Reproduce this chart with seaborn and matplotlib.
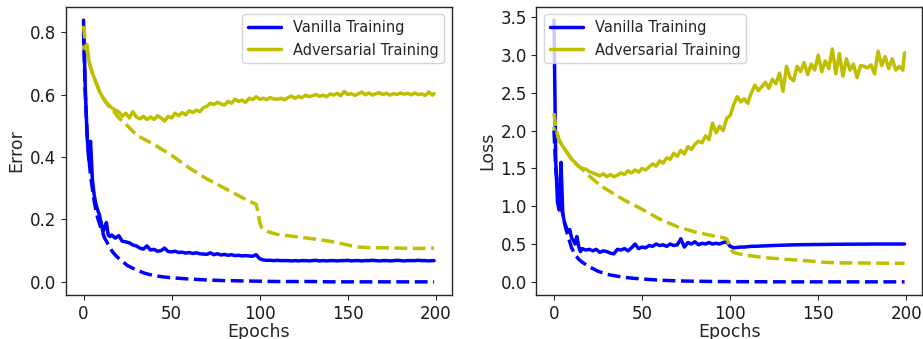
import matplotlib
matplotlib.use('Agg')
import matplotlib.pyplot as plt
import seaborn as sns

##
# epochs for the noisy (test) curves and the smooth (train) curves
ep_test = list(range(0 , 16)) + list(range(16 , 200 , 2)) + [199]
ep_van_train = [0 , 1 , 2 , 3 , 4 , 5 , 6 , 7 , 8 , 10 , 12 , 14 , 16 , 18 , 20 , 25 , 30 , 35 , 40 , 45 ,
                50 , 60 , 70 , 80 , 90 , 100 , 110 , 120 , 130 , 140 , 150 , 160 , 170 , 180 , 190 , 199]
ep_adv_train = [0 , 1 , 2 , 3 , 4 , 5 , 6 , 8 , 10 , 12 , 14 , 16 , 18 , 20 , 25 , 30 , 40 , 50 , 60 , 70 ,
                80 , 90 , 95 , 98 , 99 , 100 , 101 , 102 , 105 , 110 , 120 , 130 , 140 , 150 , 155 , 160 ,
                170 , 180 , 190 , 199]

##
err_van_test = [0.838 , 0.62 , 0.47 , 0.39 , 0.45 , 0.33 , 0.28 , 0.25 , 0.23 , 0.215 ,
                0.19 , 0.16 , 0.175 , 0.19 , 0.15 , 0.145 ,
                0.15 , 0.14 , 0.148 , 0.13 , 0.128 , 0.125 , 0.118 , 0.115 , 0.108 , 0.105 ,
                0.115 , 0.102 , 0.104 , 0.098 , 0.1 , 0.108 , 0.097 , 0.096 , 0.098 , 0.094 ,
                0.095 , 0.092 , 0.094 , 0.091 , 0.093 , 0.09 , 0.089 , 0.088 , 0.093 , 0.087 ,
                0.09 , 0.086 , 0.088 , 0.085 , 0.087 , 0.084 , 0.085 , 0.083 , 0.084 , 0.083 ,
                0.082 , 0.087 , 0.074 , 0.07 , 0.069 , 0.069 , 0.068 , 0.069 , 0.068 , 0.068 ,
                0.068 , 0.067 , 0.068 , 0.067 , 0.068 , 0.068 , 0.067 , 0.068 , 0.069 , 0.067 ,
                0.068 , 0.067 , 0.068 , 0.068 , 0.067 , 0.068 , 0.068 , 0.069 , 0.067 , 0.068 ,
                0.068 , 0.067 , 0.068 , 0.068 , 0.069 , 0.068 , 0.067 , 0.068 , 0.068 , 0.067 ,
                0.068 , 0.069 , 0.068 , 0.067 , 0.068 , 0.068 , 0.068 , 0.069 , 0.068 , 0.068 ,
                0.067 , 0.068 ,
                0.068]

err_adv_test = [0.752 , 0.745 , 0.76 , 0.71 , 0.685 , 0.67 , 0.655 , 0.64 , 0.625 , 0.61 ,
                0.6 , 0.59 , 0.583 , 0.575 , 0.568 , 0.562 ,
                0.558 , 0.55 , 0.545 , 0.53 , 0.54 , 0.525 , 0.545 , 0.528 , 0.522 , 0.53 ,
                0.52 , 0.528 , 0.52 , 0.532 , 0.525 , 0.515 , 0.53 , 0.525 , 0.54 , 0.532 ,
                0.542 , 0.535 , 0.548 , 0.542 , 0.55 , 0.545 , 0.558 , 0.562 , 0.572 , 0.568 ,
                0.575 , 0.57 , 0.566 , 0.578 , 0.572 , 0.585 , 0.578 , 0.582 , 0.575 , 0.588 ,
                0.584 , 0.593 , 0.585 , 0.588 , 0.584 , 0.59 , 0.586 , 0.585 , 0.588 , 0.583 ,
                0.59 , 0.595 , 0.588 , 0.594 , 0.59 , 0.598 , 0.593 , 0.596 , 0.6 , 0.594 ,
                0.598 , 0.593 , 0.602 , 0.598 , 0.604 , 0.596 , 0.61 , 0.6 , 0.603 , 0.597 ,
                0.602 , 0.608 , 0.599 , 0.605 , 0.598 , 0.603 , 0.606 , 0.6 , 0.604 , 0.598 ,
                0.603 , 0.6 , 0.605 , 0.601 , 0.604 , 0.599 , 0.605 , 0.6 , 0.602 , 0.597 ,
                0.608 , 0.598 ,
                0.603]

err_van_train = [0.8 , 0.6 , 0.48 , 0.4 , 0.34 , 0.3 , 0.26 , 0.23 , 0.205 , 0.17 , 0.14 , 0.12 ,
                 0.1 , 0.086 , 0.075 , 0.052 , 0.038 , 0.027 , 0.02 , 0.016 , 0.013 , 0.009 , 0.006 ,
                 0.004 , 0.003 , 0.002 , 0.001 , 0.001 , 0.001 , 0.0 , 0.0 , 0.0 , 0.0 , 0.0 , 0.0 , 0.0]

err_adv_train = [0.82 , 0.77 , 0.74 , 0.71 , 0.69 , 0.67 , 0.655 , 0.625 , 0.6 , 0.58 , 0.565 , 0.555 ,
                 0.54 , 0.525 , 0.5 , 0.47 , 0.44 , 0.405 , 0.365 , 0.33 , 0.3 , 0.27 , 0.256 , 0.248 ,
                 0.225 , 0.19 , 0.175 , 0.17 , 0.16 , 0.152 , 0.145 , 0.138 , 0.13 , 0.118 , 0.112 ,
                 0.11 , 0.109 , 0.108 , 0.107 , 0.108]

##
loss_van_test = [3.46 , 1.6 , 1.05 , 0.95 , 1.58 , 0.9 , 0.78 , 0.72 , 0.66 , 0.69 ,
                 0.58 , 0.55 , 0.5 , 0.6 , 0.47 , 0.4 ,
                 0.44 , 0.42 , 0.43 , 0.41 , 0.43 , 0.39 , 0.41 , 0.4 , 0.38 , 0.37 ,
                 0.43 , 0.42 , 0.44 , 0.41 , 0.45 , 0.5 , 0.44 , 0.46 , 0.45 , 0.48 ,
                 0.47 , 0.5 , 0.48 , 0.49 , 0.47 , 0.5 , 0.48 , 0.49 , 0.57 , 0.46 ,
                 0.52 , 0.5 , 0.53 , 0.49 , 0.51 , 0.5 , 0.52 , 0.5 , 0.51 , 0.5 ,
                 0.52 , 0.53 , 0.47 , 0.45 , 0.455 , 0.46 , 0.46 , 0.465 , 0.47 , 0.47 ,
                 0.472 , 0.474 , 0.476 , 0.478 , 0.48 , 0.482 , 0.483 , 0.485 , 0.486 , 0.488 ,
                 0.489 , 0.49 , 0.491 , 0.492 , 0.492 , 0.493 , 0.494 , 0.494 , 0.495 , 0.495 ,
                 0.496 , 0.496 , 0.497 , 0.497 , 0.497 , 0.498 , 0.498 , 0.498 , 0.499 , 0.499 ,
                 0.499 , 0.499 , 0.5 , 0.5 , 0.5 , 0.5 , 0.5 , 0.5 , 0.5 , 0.5 ,
                 0.5 , 0.5 ,
                 0.5]

loss_adv_test = [2.03 , 1.97 , 1.93 , 1.86 , 1.83 , 1.79 , 1.76 , 1.72 , 1.69 , 1.66 ,
                 1.62 , 1.6 , 1.58 , 1.55 , 1.53 , 1.51 ,
                 1.5 , 1.49 , 1.46 , 1.44 , 1.42 , 1.4 , 1.43 , 1.39 , 1.42 , 1.39 ,
                 1.41 , 1.44 , 1.42 , 1.47 , 1.44 , 1.48 , 1.45 , 1.5 , 1.48 , 1.52 ,
                 1.56 , 1.53 , 1.6 , 1.57 , 1.64 , 1.62 , 1.7 , 1.66 , 1.74 , 1.69 ,
                 1.79 , 1.75 , 1.82 , 1.86 , 1.84 , 1.93 , 1.88 , 2.1 , 1.97 , 2.06 ,
                 2.0 , 2.16 , 2.2 , 2.34 , 2.45 , 2.38 , 2.42 , 2.36 , 2.5 , 2.6 ,
                 2.53 , 2.58 , 2.64 , 2.56 , 2.68 , 2.62 , 2.76 , 2.52 , 2.85 , 2.7 ,
                 2.66 , 2.85 , 2.78 , 2.9 , 2.74 , 2.88 , 2.8 , 3.0 , 2.78 , 2.92 ,
                 2.82 , 3.08 , 2.75 , 3.02 , 2.72 , 2.95 , 2.8 , 2.88 , 2.7 , 2.86 ,
                 2.85 , 2.83 , 2.87 , 2.75 , 3.05 , 2.86 , 2.98 , 2.82 , 2.95 , 2.8 ,
                 2.85 , 2.8 ,
                 3.03]

loss_van_train = [2.0 , 1.5 , 1.26 , 1.1 , 0.98 , 0.9 , 0.78 , 0.68 , 0.6 , 0.45 , 0.36 , 0.3 ,
                  0.26 , 0.23 , 0.2 , 0.14 , 0.1 , 0.078 , 0.06 , 0.047 , 0.038 , 0.022 , 0.013 ,
                  0.008 , 0.005 , 0.003 , 0.002 , 0.001 , 0.0 , 0.0 , 0.0 , 0.0 , 0.0 , 0.0 , 0.0 , 0.0]

loss_adv_train = [2.23 , 2.05 , 1.95 , 1.87 , 1.83 , 1.79 , 1.76 , 1.69 , 1.62 , 1.57 , 1.53 , 1.49 ,
                  1.44 , 1.4 , 1.3 , 1.22 , 1.08 , 0.96 , 0.83 , 0.73 , 0.66 , 0.61 , 0.59 , 0.57 ,
                  0.52 , 0.45 , 0.41 , 0.39 , 0.37 , 0.35 , 0.32 , 0.3 , 0.285 , 0.265 , 0.257 ,
                  0.252 , 0.25 , 0.248 , 0.246 , 0.245]

##
sns.set_style('ticks')
plt.rcParams['font.family'] = ['DejaVu Sans']

fig , axs = plt.subplots(1 , 2 , figsize=(9.23 , 3.39) , dpi=100)
fig.subplots_adjust(left=0.0715 , right=0.999 , top=0.979 , bottom=0.13 , wspace=0.22)

panels = [
    (axs[0] , err_van_test , err_adv_test , err_van_train , err_adv_train , 'Error' , 'upper right') ,
    (axs[1] , loss_van_test , loss_adv_test , loss_van_train , loss_adv_train , 'Loss' , 'upper left') ,
    ]

lw = 2.5
for ax , vt , at , vtr , atr , ylab , loc in panels :
  sns.lineplot(x=ep_test , y=vt , color='b' , lw=lw , label='Vanilla Training' , ax=ax)
  sns.lineplot(x=ep_test , y=at , color='y' , lw=lw , label='Adversarial Training' , ax=ax)
  sns.lineplot(x=ep_van_train , y=vtr , color='b' , lw=lw , linestyle='--' , ax=ax)
  sns.lineplot(x=ep_adv_train , y=atr , color='y' , lw=lw , linestyle='--' , ax=ax)

  ax.set_xlabel('Epochs' , fontsize=12.5 , labelpad=0)
  ax.set_ylabel(ylab , fontsize=12.5 , labelpad=3)
  ax.tick_params(labelsize=12 , labelcolor='0.1')
  ax.set_xticks([0 , 50 , 100 , 150 , 200])
  ax.set_xlim(-9.95 , 208.95)
  ax.legend(loc=loc , fontsize=10.5 , frameon=True , handlelength=2.3)

axs[0].set_yticks([0.0 , 0.2 , 0.4 , 0.6 , 0.8])
axs[1].set_yticks([0.0 , 0.5 , 1.0 , 1.5 , 2.0 , 2.5 , 3.0 , 3.5])

for ax in axs :
  for sp in ax.spines.values() :
    sp.set_visible(True)
    sp.set_color('0.15')
    sp.set_linewidth(1.0)

plt.savefig('out.png' , dpi=100)
